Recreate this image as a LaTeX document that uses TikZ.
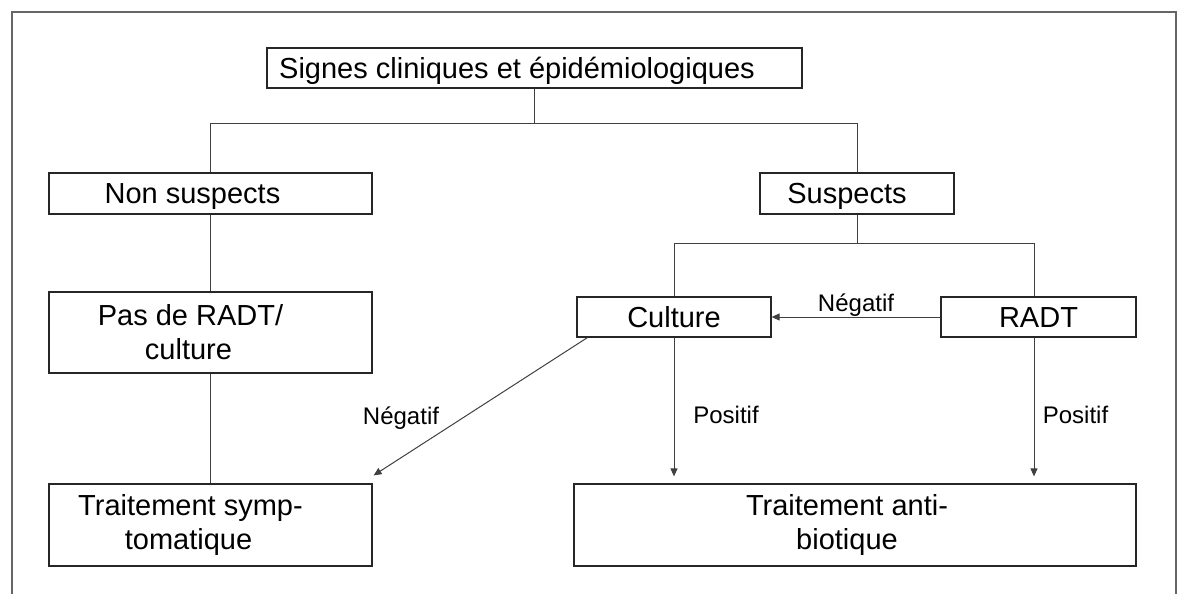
\documentclass[tikz,border=0pt]{standalone}
\usepackage{fontspec}
\setmainfont{Liberation Sans}
\usetikzlibrary{arrows.meta}
\begin{document}
\begin{tikzpicture}[x=1pt,y=-1pt,
  box/.style={draw=black!85, line width=1.2pt, inner sep=0pt, align=center, font=\fontsize{29}{34}\selectfont},
  one/.style={box, text height=20.5pt, text depth=0pt},
  conn/.style={draw=black!75, line width=1pt},
  arr/.style={conn, -{Triangle[length=8pt,width=7pt]}},
  lab/.style={font=\fontsize{24}{28}\selectfont, inner sep=0pt},
  framel/.style={draw=black!60, line width=2pt}]
\useasboundingbox (0,0) rectangle (1180,594);
\draw[framel] (12,594) -- (12,12) -- (1176,12) -- (1176,594);

\node[one, minimum width=535pt, minimum height=40pt] (top) at (534.5,68) {Signes cliniques et épidémiologiques\hspace*{35pt}};
\node[one, minimum width=323pt, minimum height=41pt] (nons) at (210.5,193.5) {Non suspects\hspace*{36pt}};
\node[one, minimum width=194pt, minimum height=41pt] (sus) at (857,193.5) {Suspects\hspace*{20pt}};
\node[box, minimum width=323pt, minimum height=81pt] (pas) at (210.5,332.5) {Pas de RADT/\hspace*{40pt}\\culture\hspace*{44pt}};
\node[one, minimum width=194pt, minimum height=40pt] (cult) at (674,317) {Culture};
\node[one, minimum width=195pt, minimum height=40pt] (radt) at (1038.5,317) {RADT};
\node[box, minimum width=323pt, minimum height=82pt] (tsym) at (210.5,525) {Traitement symp-\hspace*{40pt}\\tomatique\hspace*{44pt}};
\node[box, minimum width=562pt, minimum height=82pt] (tanti) at (855,525) {Traitement anti-\hspace*{16pt}\\biotique\hspace*{16pt}};

\coordinate (rn) at ([xshift=-4.5pt]radt.north);
\coordinate (rs) at ([xshift=-4.5pt]radt.south);
\coordinate (cs) at ([xshift=11pt]cult.south west);
\coordinate (te) at ([xshift=1pt,yshift=8pt]tsym.north east);
\coordinate (ta1) at ([yshift=7pt]tanti.north -| cult.south);
\coordinate (ta2) at ([yshift=7pt]tanti.north -| rs);

\draw[conn] (top.south) -- ++(0,35) -| (nons.north);
\draw[conn] (top.south) -- ++(0,35) -| (sus.north);
\draw[conn] (nons.south) -- (pas.north);
\draw[conn] (pas.south) -- (tsym.north);
\draw[conn] (sus.south) -- ++(0,29) -| (cult.north);
\draw[conn] (sus.south) -- ++(0,29) -| (rn);

\draw[arr] (radt.west) -- (cult.east);
\draw[arr] (cs) -- (te);
\draw[arr] (cult.south) -- (ta1);
\draw[arr] (rs) -- (ta2);

\node[lab, anchor=base] (ln1) at (856,311) {Négatif};
\node[lab, anchor=base] (ln2) at (401,424) {Négatif};
\node[lab, anchor=base] (lp1) at (726,423) {Positif};
\node[lab, anchor=base] (lp2) at (1075.5,423) {Positif};
\end{tikzpicture}
\end{document}
